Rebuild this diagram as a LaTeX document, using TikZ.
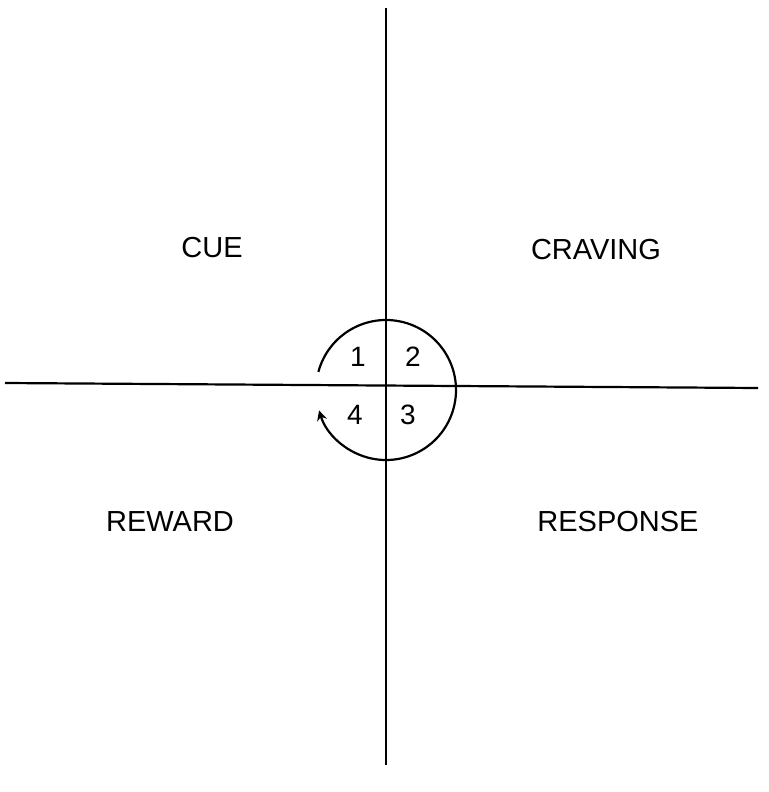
\documentclass[tikz,border=0pt]{standalone}
\usepackage{fontspec}
\setmainfont{Liberation Sans}
\usetikzlibrary{arrows.meta}
\begin{document}
\begin{tikzpicture}[x=1pt,y=-1pt,
  ax/.style={line width=2.2pt,black},
  lab/.style={font=\fontsize{29}{31}\selectfont},
  num/.style={font=\fontsize{28}{30}\selectfont}]
\useasboundingbox (0,0) rectangle (768,792);
\fill[white] (0,0) rectangle (768,792);
\coordinate (t) at (386,8); \coordinate (b) at (386,765);
\coordinate (l) at (5,383); \coordinate (r) at (758,388);
\draw[ax] (t) -- (b);
\draw[ax] (l) -- (r);
\coordinate (c) at (386,390);
\draw[ax,-{Stealth[length=10pt,width=10pt]}] (c) ++(-165:70) arc[start angle=-165,end angle=163,radius=70];
\node[num] (n1) at (358,357) {1};
\node[num] (n2) at (413,357) {2};
\node[num] (n4) at (355,415) {4};
\node[num] (n3) at (408,415) {3};
\node[lab] (cue) at (212,248) {CUE};
\node[lab] (crav) at (596,250) {CRAVING};
\node[lab] (rew) at (170,522) {REWARD};
\node[lab] (resp) at (618,522) {RESPONSE};
\end{tikzpicture}
\end{document}
